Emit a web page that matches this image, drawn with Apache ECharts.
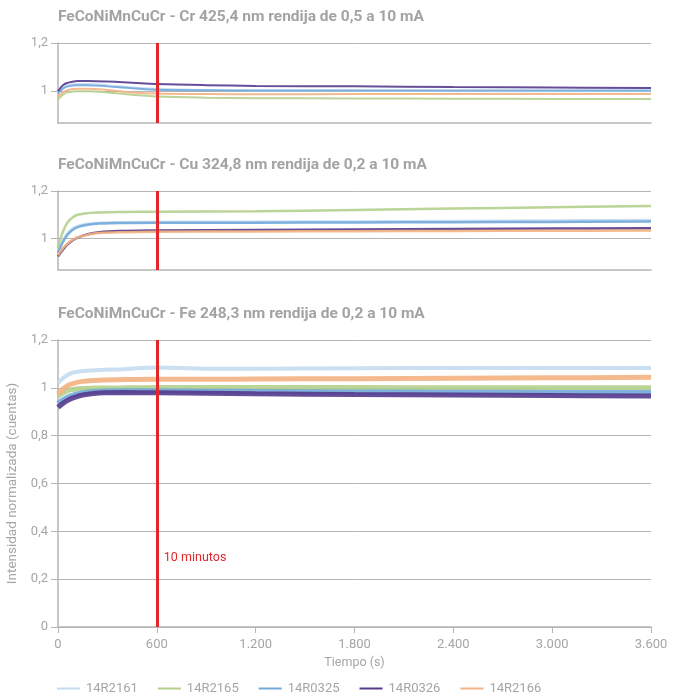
<!DOCTYPE html>
<html>
<head>
<meta charset="utf-8">
<script src="https://cdn.jsdelivr.net/npm/echarts@6/dist/echarts.min.js"></script>
<style>
html,body{margin:0;padding:0;background:#fff;}
#chart{width:673px;height:696px;}
</style>
</head>
<body>
<div id="chart"></div>
<script>
// ---- Data ----
var seriesNames = ['14R2161', '14R2165', '14R0325', '14R0326', '14R2166'];
var seriesColors = ['#c4dbef', '#b4cf8c', '#72a9d9', '#553a8c', '#f3b281'];
var panelTitles = [
  'FeCoNiMnCuCr - Cr 425,4 nm rendija de 0,5 a 10 mA',
  'FeCoNiMnCuCr - Cu 324,8 nm rendija de 0,2 a 10 mA',
  'FeCoNiMnCuCr - Fe 248,3 nm rendija de 0,2 a 10 mA'
];
var xTicks = [0, 600, 1200, 1800, 2400, 3000, 3600];
var markTime = 600;
var markText = '10 minutos';
var markTextLevel = 0.29;

// Cr 425,4 nm
var timeCr = [0, 30, 60, 120, 180, 300, 450, 600, 900, 1200, 1800, 2400, 3000, 3600];
var cr_14R2161 = [0.995, 1.015, 1.025, 1.030, 1.030, 1.025, 1.015, 1.010, 1.005, 1.003, 1.002, 1.000, 1.000, 1.000];
var cr_14R2165 = [0.965, 0.985, 0.995, 1.000, 1.000, 0.995, 0.985, 0.978, 0.973, 0.971, 0.970, 0.969, 0.968, 0.968];
var cr_14R0325 = [0.990, 1.010, 1.020, 1.025, 1.025, 1.020, 1.012, 1.006, 1.004, 1.003, 1.003, 1.003, 1.003, 1.003];
var cr_14R0326 = [1.000, 1.025, 1.035, 1.042, 1.042, 1.040, 1.035, 1.030, 1.025, 1.022, 1.020, 1.017, 1.015, 1.013];
var cr_14R2166 = [0.975, 0.995, 1.005, 1.010, 1.010, 1.005, 0.995, 0.990, 0.988, 0.987, 0.988, 0.988, 0.988, 0.988];

// Cu 324,8 nm
var timeCu = [0, 20, 40, 60, 90, 120, 180, 250, 400, 600, 1200, 1800, 2400, 3000, 3600];
var cu_14R2161 = [0.945, 0.980, 1.005, 1.025, 1.043, 1.053, 1.062, 1.067, 1.069, 1.070, 1.071, 1.072, 1.074, 1.076, 1.078];
var cu_14R2165 = [0.960, 1.010, 1.045, 1.070, 1.090, 1.100, 1.107, 1.110, 1.112, 1.113, 1.115, 1.120, 1.126, 1.132, 1.137];
var cu_14R0325 = [0.940, 0.972, 0.998, 1.018, 1.037, 1.048, 1.058, 1.063, 1.066, 1.067, 1.067, 1.068, 1.069, 1.070, 1.072];
var cu_14R0326 = [0.925, 0.945, 0.962, 0.977, 0.993, 1.004, 1.018, 1.027, 1.032, 1.034, 1.036, 1.038, 1.040, 1.042, 1.043];
var cu_14R2166 = [0.930, 0.950, 0.967, 0.980, 0.995, 1.005, 1.016, 1.023, 1.027, 1.029, 1.030, 1.031, 1.032, 1.033, 1.034];

// Fe 248,3 nm
var timeFe = [0, 30, 60, 100, 150, 250, 400, 600, 900, 1200, 1800, 2400, 3000, 3600];
var fe_14R2161 = [1.020, 1.040, 1.055, 1.065, 1.070, 1.075, 1.078, 1.085, 1.080, 1.080, 1.082, 1.083, 1.083, 1.083];
var fe_14R2165 = [0.965, 0.978, 0.988, 0.994, 0.997, 0.999, 1.000, 1.001, 1.001, 1.001, 1.001, 1.000, 1.000, 1.000];
var fe_14R0325 = [0.935, 0.950, 0.962, 0.972, 0.980, 0.986, 0.988, 0.988, 0.986, 0.985, 0.983, 0.982, 0.981, 0.980];
var fe_14R0326 = [0.918, 0.935, 0.948, 0.960, 0.970, 0.978, 0.980, 0.979, 0.977, 0.975, 0.972, 0.970, 0.968, 0.966];
var fe_14R2166 = [0.975, 0.995, 1.010, 1.020, 1.027, 1.032, 1.035, 1.036, 1.036, 1.037, 1.038, 1.040, 1.042, 1.044];

var panels = [
  {time: timeCr, values: [cr_14R2161, cr_14R2165, cr_14R0325, cr_14R0326, cr_14R2166], width: 2},
  {time: timeCu, values: [cu_14R2161, cu_14R2165, cu_14R0325, cu_14R0326, cu_14R2166], width: 2.5},
  {time: timeFe, values: [fe_14R2161, fe_14R2165, fe_14R0325, fe_14R0326, fe_14R2166], width: 5}
];

// ---- Chart ----
var axisGray = '#b5b5b5';
var labelGray = '#a6a6a6';
var fontFam = 'Roboto, "Noto Sans", sans-serif';

function fmtX(v) {
  return String(v).replace(/\B(?=(\d{3})+(?!\d))/g, '.');
}
function fmtY(v) {
  return String(Math.round(v * 10) / 10).replace('.', ',');
}

var grids = [
  {left: 58, right: 22, top: 43, height: 80, outerBoundsMode: 'none', containLabel: false},
  {left: 58, right: 22, top: 191, height: 79, outerBoundsMode: 'none', containLabel: false},
  {left: 58, right: 22, top: 340, height: 287, outerBoundsMode: 'none', containLabel: false}
];

var titles = panelTitles.map(function (t, i) {
  return {
    text: t, left: 58, top: [9, 157, 306][i], padding: 0,
    textStyle: {fontFamily: fontFam, fontSize: 15.5, fontWeight: 'bold', color: '#a3a3a3'}
  };
});

var xAxes = grids.map(function (g, i) {
  var last = i === 2;
  return {
    type: 'value', gridIndex: i, min: 0, max: 3600, interval: 600,
    axisLine: {show: true, onZero: false, lineStyle: {color: axisGray, width: 1.5}},
    axisTick: {show: last, length: 6, lineStyle: {color: axisGray}},
    axisLabel: {show: last, margin: 11, color: labelGray, fontFamily: fontFam, fontSize: 13, formatter: fmtX},
    splitLine: {show: false},
    name: last ? 'Tiempo (s)' : '',
    nameLocation: 'middle', nameGap: 29,
    nameTextStyle: {color: labelGray, fontFamily: fontFam, fontSize: 12.5}
  };
});

var yAxes = grids.map(function (g, i) {
  var last = i === 2;
  var base = {
    type: 'value', gridIndex: i,
    axisLine: {show: true, lineStyle: {color: axisGray, width: 1.5}},
    axisTick: {show: true, length: 7, lineStyle: {color: axisGray}},
    axisLabel: {margin: 10, color: labelGray, fontFamily: fontFam, fontSize: 13, formatter: fmtY},
    splitLine: {show: true, lineStyle: {color: axisGray, width: 1}}
  };
  if (last) {
    base.min = 0; base.max = 1.2; base.interval = 0.2;
    base.name = 'Intensidad normalizada (cuentas)';
    base.nameLocation = 'middle';
    base.nameGap = 37;
    base.nameTextStyle = {color: labelGray, fontFamily: fontFam, fontSize: 13.5};
  } else {
    base.min = 0.868; base.max = 1.2;
    base.axisTick.customValues = [1, 1.2];
    base.axisLabel.customValues = [1, 1.2];
  }
  return base;
});

var series = [];
panels.forEach(function (p, gi) {
  seriesNames.forEach(function (name, si) {
    var s = {
      name: name, type: 'line', xAxisIndex: gi, yAxisIndex: gi,
      data: p.time.map(function (t, k) { return [t, p.values[si][k]]; }),
      smooth: 0.4, showSymbol: false, symbol: 'none',
      lineStyle: {color: seriesColors[si], width: (gi === 2 && si === 0) ? 4 : p.width, opacity: 0.9},
      itemStyle: {color: seriesColors[si]},
      z: 2, silent: true
    };
    if (si === seriesNames.length - 1) {
      s.markLine = {
        silent: true, symbol: 'none', animation: false,
        label: {show: false},
        lineStyle: {color: '#e3262a', width: 3, type: 'solid'},
        data: [{xAxis: markTime}]
      };
      if (gi === 2) {
        s.markPoint = {
          silent: true, animation: false,
          symbol: 'circle', symbolSize: 0,
          label: {show: true, position: 'right', distance: 7, formatter: markText,
                  color: '#e3262a', fontFamily: fontFam, fontSize: 12.5},
          data: [{coord: [markTime, markTextLevel]}]
        };
      }
    }
    series.push(s);
  });
});

var chart = echarts.init(document.getElementById('chart'), null, {renderer: 'canvas'});
chart.setOption({
  animation: false,
  backgroundColor: '#ffffff',
  title: titles,
  grid: grids,
  xAxis: xAxes,
  yAxis: yAxes,
  legend: {
    data: seriesNames, left: 52, top: 677,
    icon: 'rect', itemWidth: 23, itemHeight: 2, itemGap: 20,
    textStyle: {color: labelGray, fontFamily: fontFam, fontSize: 13, padding: [0, 0, 0, 1]}
  },
  series: series
});
</script>
</body>
</html>
